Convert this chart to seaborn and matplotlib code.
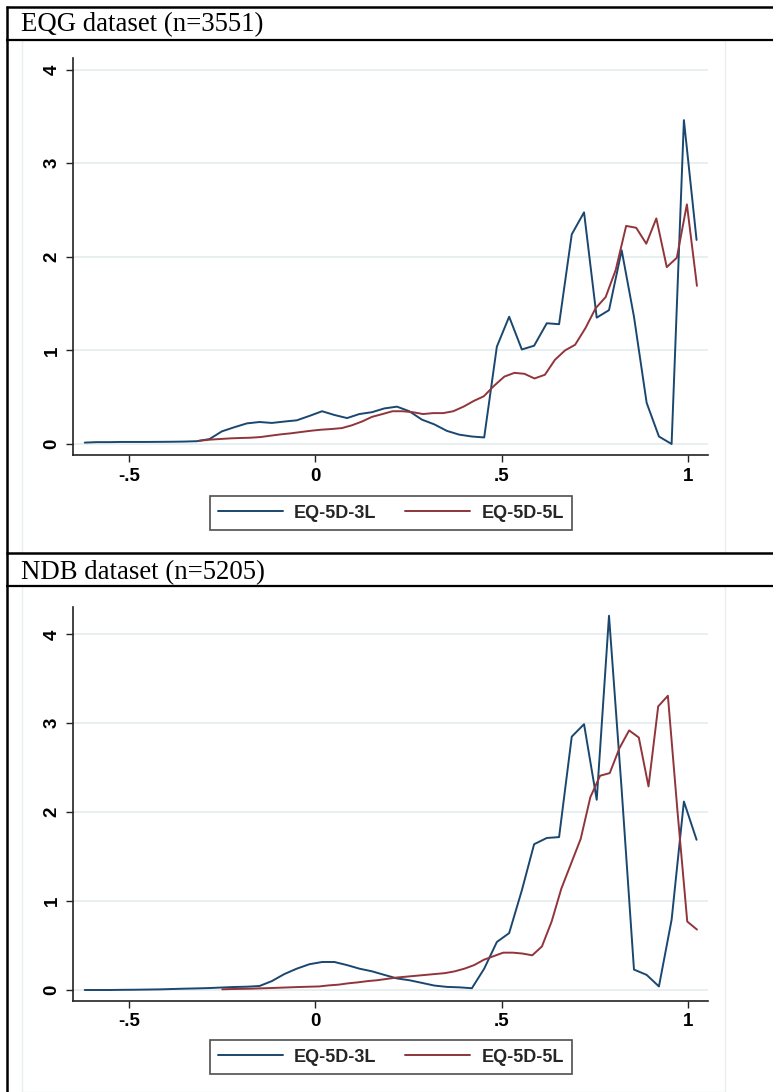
import numpy as np
import pandas as pd
import matplotlib
matplotlib.use("Agg")
import matplotlib.pyplot as plt
import seaborn as sns
from matplotlib.lines import Line2D
from matplotlib.patches import Rectangle

# ---------------- data ----------------
series_names = ["EQ-5D-3L", "EQ-5D-5L"]
panel_titles = ["EQG dataset (n=3551)", "NDB dataset (n=5205)"]
x_ticks = [-0.5, 0.0, 0.5, 1.0]
x_tick_labels = ["-.5", "0", ".5", "1"]
y_ticks = [0, 1, 2, 3, 4]
y_tick_labels = ["0", "1", "2", "3", "4"]

# evaluation grid of EQ-5D-3L (both datasets)
x_3l = [-0.619, -0.586, -0.552, -0.519, -0.485, -0.452, -0.418, -0.385, -0.351, -0.318,
        -0.284, -0.251, -0.217, -0.184, -0.150, -0.117, -0.083, -0.050, -0.016, 0.018,
        0.051, 0.085, 0.118, 0.152, 0.185, 0.219, 0.252, 0.286, 0.319, 0.353,
        0.386, 0.420, 0.453, 0.487, 0.520, 0.554, 0.587, 0.621, 0.654, 0.688,
        0.721, 0.755, 0.788, 0.822, 0.855, 0.889, 0.922, 0.956, 0.989, 1.023]

# EQG dataset
eqg_3l = [0.015, 0.020, 0.020, 0.022, 0.022, 0.022, 0.023, 0.024, 0.026, 0.030,
          0.053, 0.135, 0.180, 0.220, 0.235, 0.225, 0.240, 0.253, 0.300, 0.350,
          0.310, 0.277, 0.320, 0.340, 0.380, 0.399, 0.350, 0.260, 0.210, 0.140,
          0.100, 0.080, 0.070, 1.040, 1.360, 1.010, 1.050, 1.290, 1.280, 2.240,
          2.475, 1.350, 1.430, 2.070, 1.360, 0.440, 0.080, 0.000, 3.460, 2.180]

x_5l_eqg = [-0.311, -0.284, -0.257, -0.229, -0.202, -0.175, -0.148, -0.120, -0.093, -0.066,
            -0.039, -0.011, 0.016, 0.043, 0.071, 0.098, 0.125, 0.152, 0.180, 0.207,
            0.234, 0.261, 0.289, 0.316, 0.343, 0.370, 0.398, 0.425, 0.452, 0.479,
            0.507, 0.534, 0.561, 0.588, 0.616, 0.643, 0.670, 0.697, 0.725, 0.752,
            0.779, 0.806, 0.834, 0.861, 0.888, 0.915, 0.943, 0.970, 0.997, 1.024]
eqg_5l = [0.035, 0.046, 0.053, 0.060, 0.064, 0.067, 0.074, 0.089, 0.103, 0.114,
          0.128, 0.142, 0.153, 0.160, 0.170, 0.200, 0.240, 0.290, 0.320, 0.350,
          0.350, 0.340, 0.320, 0.330, 0.330, 0.350, 0.400, 0.460, 0.510, 0.620,
          0.720, 0.760, 0.750, 0.700, 0.740, 0.900, 1.000, 1.060, 1.240, 1.450,
          1.570, 1.860, 2.330, 2.310, 2.140, 2.410, 1.890, 1.990, 2.560, 1.690]

# NDB dataset
ndb_3l = [0.000, 0.000, 0.000, 0.002, 0.003, 0.005, 0.007, 0.011, 0.015, 0.018,
          0.022, 0.028, 0.034, 0.037, 0.045, 0.100, 0.180, 0.240, 0.290, 0.315,
          0.315, 0.280, 0.240, 0.210, 0.170, 0.130, 0.110, 0.080, 0.050, 0.035,
          0.030, 0.020, 0.240, 0.540, 0.640, 1.120, 1.640, 1.710, 1.720, 2.850,
          2.990, 2.140, 4.210, 2.250, 0.230, 0.170, 0.040, 0.790, 2.120, 1.690]

x_5l_ndb = [-0.250, -0.224, -0.198, -0.172, -0.146, -0.120, -0.094, -0.068, -0.042, -0.016,
            0.010, 0.036, 0.062, 0.088, 0.114, 0.140, 0.166, 0.192, 0.218, 0.244,
            0.270, 0.296, 0.322, 0.348, 0.374, 0.400, 0.426, 0.452, 0.478, 0.504,
            0.530, 0.556, 0.582, 0.608, 0.634, 0.660, 0.686, 0.712, 0.738, 0.764,
            0.790, 0.816, 0.842, 0.868, 0.894, 0.920, 0.946, 0.972, 0.998, 1.024]
ndb_5l = [0.008, 0.011, 0.013, 0.015, 0.019, 0.022, 0.026, 0.030, 0.034, 0.037,
          0.040, 0.052, 0.060, 0.075, 0.086, 0.100, 0.110, 0.125, 0.140, 0.150,
          0.160, 0.170, 0.180, 0.190, 0.210, 0.240, 0.280, 0.340, 0.380, 0.420,
          0.420, 0.410, 0.390, 0.490, 0.770, 1.140, 1.420, 1.700, 2.170, 2.410,
          2.440, 2.720, 2.920, 2.840, 2.290, 3.190, 3.310, 2.000, 0.770, 0.680]

# ---------------- style ----------------
sns.set_theme(style="white")
plt.rcParams["font.family"] = ["Liberation Sans", "DejaVu Sans"]

W, H = 773, 1092
palette = {"EQ-5D-3L": "#1A476F", "EQ-5D-5L": "#90353B"}
grid_col = "#E6EEF0"
axis_col = "#222222"

fig = plt.figure(figsize=(W / 100, H / 100), dpi=100)
fig.patch.set_facecolor("white")


def fx(px):
    return px / W


def fy(py):
    return 1 - py / H


def hline(y, x0, x1, lw=1.6, color="black"):
    fig.add_artist(Line2D([fx(x0), fx(x1)], [fy(y), fy(y)], transform=fig.transFigure,
                          color=color, lw=lw, solid_capstyle="butt"))


def vline(x, y0, y1, lw=1.6, color="black"):
    fig.add_artist(Line2D([fx(x), fx(x)], [fy(y0), fy(y1)], transform=fig.transFigure,
                          color=color, lw=lw, solid_capstyle="butt"))


panels = [
    dict(title=panel_titles[0], x3=x_3l, y3=eqg_3l, x5=x_5l_eqg, y5=eqg_5l,
         title_y=24, head_top=7, head_bot=40, region_bot=553,
         ax_top=58, ax_bot=455, y0px=444, ypu=93.6, leg_y=513),
    dict(title=panel_titles[1], x3=x_3l, y3=ndb_3l, x5=x_5l_ndb, y5=ndb_5l,
         title_y=572, head_top=553, head_bot=586, region_bot=1092,
         ax_top=607, ax_bot=1001, y0px=990, ypu=88.9, leg_y=1057),
]

ax_left, ax_right = 73, 708
x0px, xpu = 315.4, 372.6

for p in panels:
    # faint plot-region frame
    fig.add_artist(Rectangle((fx(22), fy(p["region_bot"])), fx(725) - fx(22),
                             fy(p["head_bot"]) - fy(p["region_bot"]),
                             transform=fig.transFigure, facecolor="white",
                             edgecolor="#E8EEEE", lw=1.0, zorder=0))
    # header lines and title
    hline(p["head_top"], 6, W, lw=1.8)
    hline(p["head_bot"], 6, W, lw=1.6)
    fig.text(fx(21), fy(p["title_y"] + 1), p["title"], family="Liberation Serif",
             fontsize=19.3, ha="left", va="center", color="black")

    ax = fig.add_axes([fx(ax_left), fy(p["ax_bot"]), fx(ax_right) - fx(ax_left),
                       fy(p["ax_top"]) - fy(p["ax_bot"])])
    ax.patch.set_alpha(0)
    df = pd.concat([
        pd.DataFrame({"x": p["x3"], "density": p["y3"], "measure": series_names[0]}),
        pd.DataFrame({"x": p["x5"], "density": p["y5"], "measure": series_names[1]}),
    ], ignore_index=True)
    sns.lineplot(data=df, x="x", y="density", hue="measure", palette=palette,
                 hue_order=series_names, linewidth=1.4, ax=ax, legend=True)

    xl0 = (ax_left - x0px) / xpu
    xl1 = (ax_right - x0px) / xpu
    yl0 = (p["y0px"] - p["ax_bot"]) / p["ypu"]
    yl1 = (p["y0px"] - p["ax_top"]) / p["ypu"]
    ax.set_xlim(xl0, xl1)
    ax.set_ylim(yl0, yl1)
    ax.set_xticks(x_ticks)
    ax.set_xticklabels(x_tick_labels)
    ax.set_yticks(y_ticks)
    ax.set_yticklabels(y_tick_labels, rotation=90, va="center")
    ax.set_xlabel("")
    ax.set_ylabel("")
    for s in ["top", "right"]:
        ax.spines[s].set_visible(False)
    for s in ["left", "bottom"]:
        ax.spines[s].set_color(axis_col)
        ax.spines[s].set_linewidth(1.2)
    ax.grid(False)
    for yt in y_ticks:
        ax.axhline(yt, color=grid_col, lw=1.3, zorder=0)
    ax.tick_params(axis="both", direction="out", length=5, width=1.0, color=axis_col,
                   labelsize=13.5, pad=4, bottom=True, left=True)
    for lab in ax.get_xticklabels() + ax.get_yticklabels():
        lab.set_fontweight("bold")
        lab.set_color("black")

    handles, labels = ax.get_legend_handles_labels()
    leg = ax.legend(handles, labels, loc="center", ncol=2,
                    bbox_to_anchor=(fx(391), fy(p["leg_y"])),
                    bbox_transform=fig.transFigure, frameon=True, fancybox=False,
                    edgecolor="#222222", handlelength=3.6, handletextpad=0.6,
                    columnspacing=1.6, borderpad=0.45,
                    prop={"family": "Liberation Sans", "weight": "bold", "size": 13})
    leg.get_frame().set_linewidth(1.2)
    for lh in leg.get_lines():
        lh.set_linewidth(1.4)

vline(7, 6, H, lw=1.8)

fig.savefig("out.png", dpi=100, facecolor="white")
